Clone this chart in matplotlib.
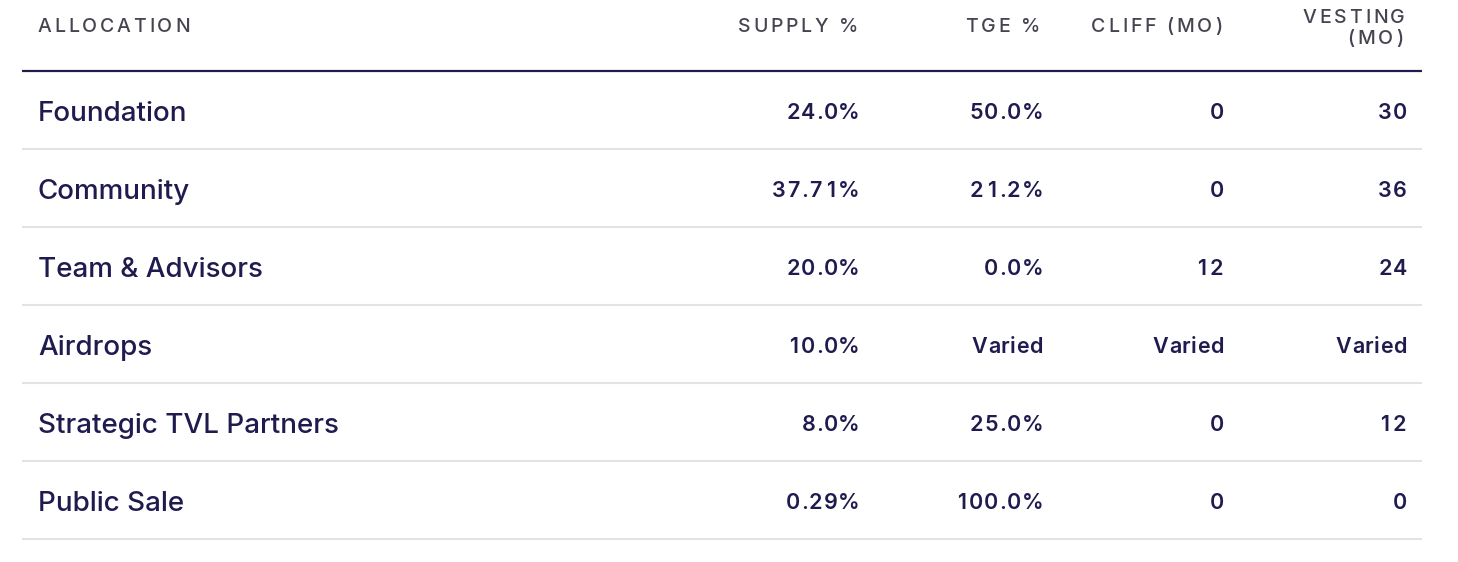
import matplotlib
matplotlib.use("Agg")
import matplotlib.pyplot as plt

# ---- data ----
headers = ["ALLOCATION", "SUPPLY %", "TGE %", "CLIFF (MO)", "VESTING\n(MO)"]
allocations = ["Foundation", "Community", "Team & Advisors", "Airdrops",
               "Strategic TVL Partners", "Public Sale"]
supply = ["24.0%", "37.71%", "20.0%", "10.0%", "8.0%", "0.29%"]
tge = ["50.0%", "21.2%", "0.0%", "Varied", "25.0%", "100.0%"]
cliff = ["0", "0", "12", "Varied", "0", "0"]
vesting = ["30", "36", "24", "Varied", "12", "0"]

W, H = 1458, 562
fig = plt.figure(figsize=(W / 100, H / 100), dpi=100)
ax = fig.add_axes([0, 0, 1, 1])
ax.set_xlim(0, W)
ax.set_ylim(H, 0)
ax.axis("off")
fig.canvas.draw()
renderer = fig.canvas.get_renderer()

HEAD_C = "#454551"
BODY_C = "#1f1b4f"
LINE_C = "#221c4e"
SEP_C = "#e3e3e6"
FONT = ["Inter", "DejaVu Sans"]


def text_width(s, **kw):
    t = ax.text(0, 0, s, **kw)
    w = t.get_window_extent(renderer).width
    t.remove()
    return w


def advance(ch, **kw):
    return text_width(ch + "x", **kw) - text_width("x", **kw)


def spaced(x, y, s, ha="left", spacing=0.0, tabular=False, **kw):
    zero = advance("0", **kw)
    advs = []
    for ch in s:
        if tabular and ch.isdigit():
            advs.append(zero)
        else:
            advs.append(advance(ch, **kw))
    total = sum(advs) + (len(s) - 1) * spacing
    x0 = x - total if ha == "right" else x
    cur = x0
    for ch, a in zip(s, advs):
        if ch != " ":
            if tabular and ch.isdigit():
                ax.text(cur + a / 2, y, ch, ha="center", va="baseline", **kw)
            else:
                ax.text(cur, y, ch, ha="left", va="baseline", **kw)
        cur += a + spacing


head_kw = dict(fontsize=14, color=HEAD_C, family=FONT, fontweight="medium")
col_right = [None, 858, 1040, 1222, 1405]
HS = 2.8
spaced(38, 32, headers[0], spacing=HS, **head_kw)
for j in range(1, 5):
    lines = headers[j].split("\n")
    if len(lines) == 1:
        spaced(col_right[j], 32, lines[0], ha="right", spacing=HS, **head_kw)
    else:
        spaced(col_right[j], 23, lines[0], ha="right", spacing=HS, **head_kw)
        spaced(col_right[j] - 2, 44, lines[1], ha="right", spacing=HS, **head_kw)

ax.plot([22, 1422], [71, 71], color=LINE_C, lw=1.6, solid_capstyle="butt")

row_h = 78
val_right = [860, 1043, 1224, 1407]
lab_kw = dict(fontsize=20, color=BODY_C, family=FONT, fontweight="medium")
val_kw = dict(fontsize=15.5, color=BODY_C, family=FONT, fontweight="semibold")
for i, name in enumerate(allocations):
    yb = 121 + i * row_h
    ax.text(38, yb, name, ha="left", va="baseline", **lab_kw)
    for j, col in enumerate([supply, tge, cliff, vesting]):
        spaced(val_right[j], yb - 2, col[i], ha="right", spacing=0.6,
               tabular=True, **val_kw)
    ys = 149 + i * row_h
    ax.plot([22, 1422], [ys, ys], color=SEP_C, lw=1.5, solid_capstyle="butt")

fig.savefig("out.png", dpi=100, facecolor="white")
